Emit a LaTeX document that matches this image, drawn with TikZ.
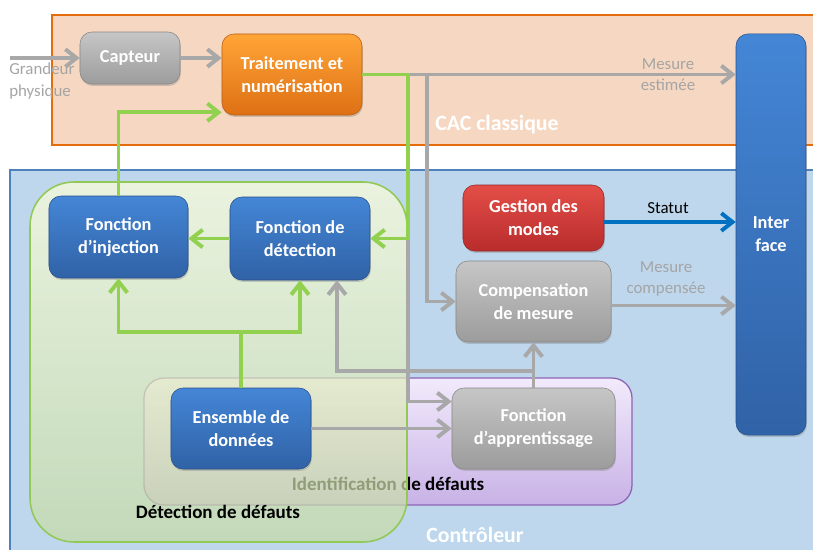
\documentclass[tikz,border=0pt]{standalone}
\usepackage{fontspec}
\setmainfont{Carlito}
\usepackage{tikz}
\usetikzlibrary{arrows.meta,positioning,calc,backgrounds,shadows}
\definecolor{cacfill}{RGB}{246,216,194}
\definecolor{cacedge}{RGB}{228,108,10}
\definecolor{ctrlfill}{RGB}{190,215,236}
\definecolor{ctrledge}{RGB}{79,129,189}
\definecolor{detedge}{RGB}{146,200,86}
\definecolor{dettop}{RGB}{254,255,218}
\definecolor{detbot}{RGB}{197,219,164}
\definecolor{idtop}{RGB}{242,234,252}
\definecolor{idbot}{RGB}{200,178,230}
\definecolor{idedge}{RGB}{140,100,180}
\definecolor{graytop}{RGB}{198,198,198}
\definecolor{graybot}{RGB}{156,156,156}
\definecolor{grayedge}{RGB}{135,135,135}
\definecolor{orangetop}{RGB}{255,165,55}
\definecolor{orangebot}{RGB}{222,112,20}
\definecolor{orangeedge}{RGB}{185,95,25}
\definecolor{bluetop}{RGB}{68,134,214}
\definecolor{bluebot}{RGB}{48,98,166}
\definecolor{blueedge}{RGB}{40,80,140}
\definecolor{redtop}{RGB}{228,78,72}
\definecolor{redbot}{RGB}{184,44,44}
\definecolor{rededge}{RGB}{150,40,40}
\definecolor{arrgray}{RGB}{168,168,168}
\definecolor{arrgreen}{RGB}{146,208,80}
\definecolor{arrblue}{RGB}{0,112,192}
\definecolor{labgray}{RGB}{165,165,165}
\newcommand{\boxfont}{\fontsize{13}{16.4}\selectfont\bfseries}
\newcommand{\labfont}{\fontsize{12}{15}\selectfont}
\newcommand{\zonefont}{\fontsize{15.5}{18}\selectfont\bfseries}
\newcommand{\subzonefont}{\fontsize{13.5}{16}\selectfont\bfseries}
\tikzset{
  basebox/.style={rectangle,rounded corners=0.3cm,align=center,font=\boxfont,text=white,inner sep=0pt,
    drop shadow={shadow xshift=0.6pt,shadow yshift=-1.4pt,opacity=0.35}},
  graynode/.style={basebox,top color=graytop,bottom color=graybot,draw=grayedge},
  orangenode/.style={basebox,top color=orangetop,bottom color=orangebot,draw=orangeedge},
  bluenode/.style={basebox,top color=bluetop,bottom color=bluebot,draw=blueedge},
  rednode/.style={basebox,top color=redtop,bottom color=redbot,draw=rededge},
  cacbox/.style={draw=cacedge,fill=cacfill,line width=1.8pt},
  ctrlbox/.style={draw=ctrledge,fill=ctrlfill,line width=1.4pt},
  detbox/.style={draw=detedge,line width=1.1pt,rounded corners=1.1cm,top color=dettop,bottom color=detbot,fill opacity=0.7},
  idbox/.style={draw=idedge,line width=0.9pt,rounded corners=0.5cm,top color=idtop,bottom color=idbot},
  labtxt/.style={font=\labfont,text=labgray,align=center,inner sep=0pt},
  zonetxt/.style={font=\zonefont,text=white,inner sep=0pt},
  subzonetxt/.style={font=\subzonefont,text=black,inner sep=0pt},
  grayarr/.style={-{Straight Barb[length=2.8mm,width=4.4mm]},line width=2.8pt,color=arrgray},
  greenarr/.style={-{Straight Barb[length=2.8mm,width=4.4mm]},line width=2.8pt,color=arrgreen},
  bluearr/.style={-{Straight Barb[length=2.8mm,width=4.4mm]},line width=2.8pt,color=arrblue}
}
\begin{document}
\begin{tikzpicture}[x=0.025cm,y=-0.025cm]
  \useasboundingbox (0,0) rectangle (813,549);

  %% Blocks of the classical chain
  \node[graynode,minimum width=2.5cm,minimum height=1.3cm] (cap) at (130,58) {Capteur};
  \node[orangenode,minimum width=3.5cm,minimum height=2.025cm] (trt) at (292,74.5) {Traitement et\\num\'erisation};
  \node[bluenode,minimum width=1.75cm,minimum height=10.025cm] (iface) at (771,234.5) {Inter\\face};

  %% Blocks of the controller
  \node[bluenode,minimum width=3.475cm,minimum height=2.05cm] (inj) at (118.5,237) {Fonction\\d’injection};
  \node[bluenode,minimum width=3.5cm,minimum height=2.075cm] (det) at (300,238.5) {Fonction de\\d\'etection};
  \node[rednode,minimum width=3.525cm,minimum height=1.65cm] (gest) at (533.5,218) {Gestion des\\modes};
  \node[graynode,minimum width=3.875cm,minimum height=2.025cm] (comp) at (533.5,301.5) {Compensation\\de mesure};
  \node[bluenode,minimum width=3.5cm,minimum height=2.025cm] (ens) at (241,428.5) {Ensemble de\\donn\'ees};
  \node[graynode,minimum width=4.075cm,minimum height=2.025cm] (app) at (533.5,428.5) {Fonction\\d’apprentissage};

  %% Zones behind the blocks
  \begin{scope}[on background layer]
    \draw[cacbox] (52,15) rectangle (816,145);
    \draw[ctrlbox] (10,170) rectangle (816,552);
    \draw[idbox] (144,378) rectangle (632,505);
    \node[subzonetxt] (idl) at (388,484) {Identification de d\'efauts};
    \draw[detbox] (30,182) rectangle (407,542);
    \node[subzonetxt] (detl) at (218,512) {D\'etection de d\'efauts};
    \node[zonetxt] (cacl) at (497,125) {CAC classique};
    \node[zonetxt] (ctrll) at (475,535) {Contr\^oleur};
  \end{scope}

  %% Labels on the connectors
  \node[labtxt,anchor=west,align=left] (grl) at (9,81) {Grandeur\\physique};
  \node[labtxt] (mest) at (668,74.5) {Mesure\\estim\'ee};
  \node[labtxt] (mcomp) at (666,279) {Mesure\\compens\'ee};
  \node[labtxt,text=black] (stat) at (668,208) {Statut};

  %% Helper points
  \coordinate (grand) at (10,58);
  \coordinate (busA) at (408,0);
  \coordinate (busB) at (427,0);
  \coordinate (appin) at ($(app.west)+(0,-27)$);
  \coordinate (fb) at ($(app.north)+(0,-17)$);
  \coordinate (gj) at ($(ens.north)+(0,-56)$);

  %% Grey measurement flows
  \draw[grayarr] (grand) -- (cap.west);
  \draw[grayarr] (cap.east) -- (cap.east -| trt.west);
  \draw[grayarr] (trt.east) -- (trt.east -| iface.west);
  \draw[grayarr] (trt.east) -| (busA |- appin) -- (appin);
  \draw[grayarr] (trt.east -| busB) |- (comp.west);
  \draw[grayarr] (ens.east) -- (ens.east -| app.west);
  \draw[grayarr] (app.north) -- (comp.south);
  \draw[grayarr] (fb) -| ($(det.south)+(37,0)$);
  \draw[grayarr] ($(comp.east)+(0,4)$) -- ($(comp.east -| iface.west)+(0,4)$);

  %% Green fault loop
  \draw[greenarr] (trt.east) -| (busA |- det.east) -- (det.east);
  \draw[greenarr] (det.west) -- (det.west -| inj.east);
  \draw[greenarr] (ens.north) -- (gj) -| (inj.south);
  \draw[greenarr] (gj) -| (det.south);
  \draw[greenarr] (inj.north) |- ($(trt.south west)+(0,-3)$);

  %% Status
  \draw[bluearr] ($(gest.east)+(0,4)$) -- ($(gest.east -| iface.west)+(0,4)$);
\end{tikzpicture}
\end{document}
